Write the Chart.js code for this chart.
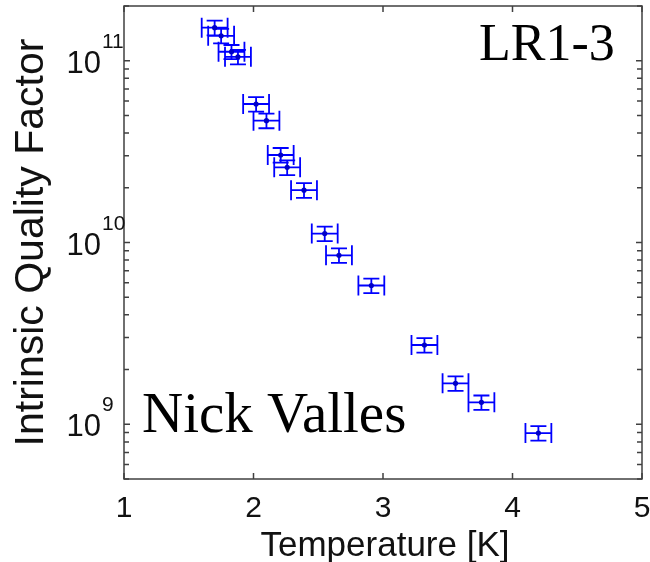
<!DOCTYPE html>
<html>
<head>
<meta charset="utf-8">
<script src="https://cdn.jsdelivr.net/npm/chart.js@4/dist/chart.umd.min.js"></script>
<style>
  body { margin: 0; background: #fff; }
  #wrap { width: 650px; height: 562px; position: relative; }
</style>
</head>
<body>
<div id="wrap"><canvas id="myChart"></canvas></div>
<script>
// values
var temps      = [1.70, 1.75, 1.83, 1.88, 2.02, 2.10, 2.21, 2.26, 2.39, 2.55, 2.66, 2.91, 3.32, 3.56, 3.76, 4.20];
var tempErr    = [0.10, 0.10, 0.10, 0.10, 0.10, 0.10, 0.10, 0.10, 0.10, 0.10, 0.10, 0.10, 0.10, 0.10, 0.10, 0.10];
var quality    = [1.52e11, 1.37e11, 1.12e11, 1.05e11, 5.78e10, 4.68e10, 3.03e10, 2.59e10, 1.94e10, 1.12e10, 8.5e9, 5.8e9, 2.73e9, 1.68e9, 1.32e9, 8.95e8];
var qualityErr = [1.4e10, 1.25e10, 1.0e10, 9.6e9, 5.3e9, 4.3e9, 2.8e9, 2.4e9, 1.8e9, 1.03e9, 7.8e8, 5.3e8, 2.5e8, 1.55e8, 1.2e8, 8.2e7];

var xTicks = [1, 2, 3, 4, 5];
var yTickExps = [9, 10, 11];

var points = temps.map(function(t, i) { return { x: t, y: quality[i] }; });

var blue = '#0000ff';
var axisColor = '#404040';
var sans = '"Liberation Sans", Arial, sans-serif';
var serif = '"Liberation Serif", "Times New Roman", serif';

// error bars, drawn under the dots
var errorBars = {
    id: 'errorBars',
    beforeDatasetsDraw: function(chart) {
        var ctx = chart.ctx, xs = chart.scales.x, ys = chart.scales.y;
        var capX = 10, capY = 8;
        ctx.save();
        ctx.strokeStyle = blue;
        ctx.lineWidth = 1.8;
        ctx.beginPath();
        for (var i = 0; i < temps.length; i++) {
            var px = xs.getPixelForValue(temps[i]);
            var py = ys.getPixelForValue(quality[i]);
            var xl = xs.getPixelForValue(temps[i] - tempErr[i]);
            var xr = xs.getPixelForValue(temps[i] + tempErr[i]);
            var yt = ys.getPixelForValue(quality[i] + qualityErr[i]);
            var yb = ys.getPixelForValue(quality[i] - qualityErr[i]);
            // horizontal
            ctx.moveTo(xl, py); ctx.lineTo(xr, py);
            ctx.moveTo(xl, py - capX); ctx.lineTo(xl, py + capX);
            ctx.moveTo(xr, py - capX); ctx.lineTo(xr, py + capX);
            // vertical
            ctx.moveTo(px, yt); ctx.lineTo(px, yb);
            ctx.moveTo(px - capY, yt); ctx.lineTo(px + capY, yt);
            ctx.moveTo(px - capY, yb); ctx.lineTo(px + capY, yb);
        }
        ctx.stroke();
        ctx.restore();
    }
};

// matlab style box, inward ticks and labels
var matlabAxes = {
    id: 'matlabAxes',
    afterDraw: function(chart) {
        var ctx = chart.ctx, a = chart.chartArea;
        var xs = chart.scales.x, ys = chart.scales.y;
        var tl = 6;
        ctx.save();
        ctx.strokeStyle = axisColor;
        ctx.lineWidth = 1.5;
        ctx.strokeRect(a.left, a.top, a.right - a.left, a.bottom - a.top);

        ctx.beginPath();
        xTicks.forEach(function(v) {
            var px = xs.getPixelForValue(v);
            ctx.moveTo(px, a.bottom); ctx.lineTo(px, a.bottom - tl);
            ctx.moveTo(px, a.top); ctx.lineTo(px, a.top + tl);
        });
        for (var e = 8; e <= 11; e++) {
            for (var k = 1; k <= 9; k++) {
                var v = k * Math.pow(10, e);
                if (v < ys.min || v > ys.max) continue;
                var py = ys.getPixelForValue(v);
                var len = k === 1 ? tl : 5;
                ctx.moveTo(a.left, py); ctx.lineTo(a.left + len, py);
                ctx.moveTo(a.right, py); ctx.lineTo(a.right - len, py);
            }
        }
        ctx.stroke();

        // x tick labels
        ctx.fillStyle = '#111';
        ctx.font = '30px ' + sans;
        ctx.textAlign = 'center';
        ctx.textBaseline = 'alphabetic';
        xTicks.forEach(function(v) {
            ctx.fillText(String(v), xs.getPixelForValue(v), 517);
        });

        // y tick labels 10^n
        yTickExps.forEach(function(n) {
            var py = ys.getPixelForValue(Math.pow(10, n));
            ctx.font = '31px ' + sans;
            ctx.textAlign = 'right';
            ctx.fillText('10', 101, py + 12);
            ctx.font = '21px ' + sans;
            ctx.textAlign = 'left';
            ctx.fillText(String(n), 102, py - 13);
        });

        // axis titles
        ctx.font = '35px ' + sans;
        ctx.textAlign = 'center';
        ctx.fillText('Temperature [K]', (a.left + a.right) / 2 + 2, 556);
        ctx.save();
        ctx.translate(43, (a.top + a.bottom) / 2);
        ctx.rotate(-Math.PI / 2);
        ctx.font = '41px ' + sans;
        ctx.fillText('Intrinsic Quality Factor', 0, 0);
        ctx.restore();

        // annotations
        ctx.fillStyle = '#000';
        ctx.textAlign = 'left';
        ctx.font = '52px ' + serif;
        ctx.fillText('LR1-3', 479, 60);
        ctx.font = '57px ' + serif;
        ctx.fillText('Nick Valles', 142, 432);
        ctx.restore();
    }
};

var ctx = document.getElementById('myChart');
var chart = new Chart(ctx, {
    type: 'scatter',
    data: {
        datasets: [{
            label: 'Q',
            data: points,
            backgroundColor: '#0000c8',
            borderColor: '#0000c8',
            pointRadius: 2.6,
            pointBorderWidth: 0,
            showLine: false
        }]
    },
    options: {
        responsive: true,
        maintainAspectRatio: false,
        animation: false,
        layout: { padding: { left: 124, top: 6, right: 8, bottom: 83 } },
        plugins: { legend: { display: false }, tooltip: { enabled: false } },
        scales: {
            x: { type: 'linear', min: 1, max: 5, display: false },
            y: { type: 'logarithmic', min: 5e8, max: 2e11, display: false }
        }
    },
    plugins: [errorBars, matlabAxes]
});
</script>
</body>
</html>
